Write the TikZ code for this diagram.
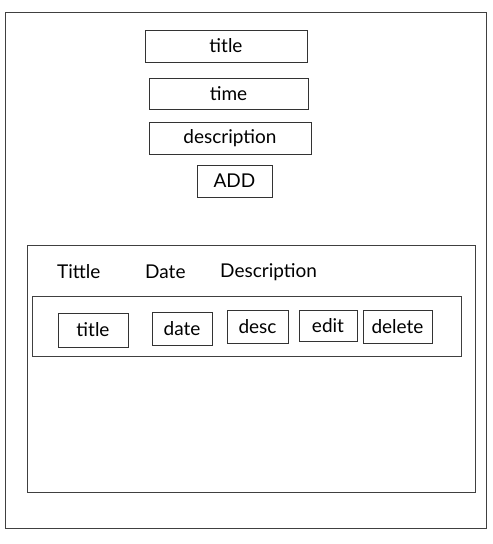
\documentclass[tikz,border=0pt]{standalone}
\usepackage{fontspec}
\setmainfont{Lato}
\begin{document}
\begin{tikzpicture}[x=1pt,y=-1pt,
  box/.style={draw=black!80, line width=1pt, inner sep=0pt, font=\fontsize{19}{19}\selectfont},
  frame/.style={draw=black!75, line width=1pt, inner sep=0pt},
  head/.style={inner sep=0pt, anchor=west, font=\fontsize{19}{19}\selectfont}]
\useasboundingbox[fill=white] (0,0) rectangle (493,544);
% outer frame, panel, row
\node[frame, minimum width=481pt, minimum height=516pt] (outer) at (245.5,270) {};
\node[frame, minimum width=448pt, minimum height=247pt] (panel) at (251,368.5) {};
\node[frame, minimum width=429pt, minimum height=60pt] (row) at (246.5,326) {};
% form
\node[box, minimum width=162pt, minimum height=32pt] (ftitle) at (226,46) {title};
\node[box, minimum width=159pt, minimum height=31pt] (ftime) at (228.5,93.5) {time};
\node[box, minimum width=162pt, minimum height=32pt] (fdesc) at (230,138) {description};
\node[box, minimum width=75pt, minimum height=32pt] (fadd) at (234.5,181) {ADD};
% headers
\node[head] (htitle) at (57,272) {Tittle};
\node[head] (hdate) at (145,272) {Date};
\node[head] (hdesc) at (220,272) {Description};
% row items
\node[box, minimum width=70pt, minimum height=34pt] (rtitle) at (93,330) {title};
\node[box, minimum width=60pt, minimum height=33pt] (rdate) at (182,328.5) {date};
\node[box, minimum width=61pt, minimum height=33pt] (rdesc) at (257.5,326.5) {desc};
\node[box, minimum width=58pt, minimum height=31pt] (redit) at (328,325.5) {edit};
\node[box, minimum width=69pt, minimum height=33pt] (rdelete) at (397.5,326.5) {delete};
\end{tikzpicture}
\end{document}
